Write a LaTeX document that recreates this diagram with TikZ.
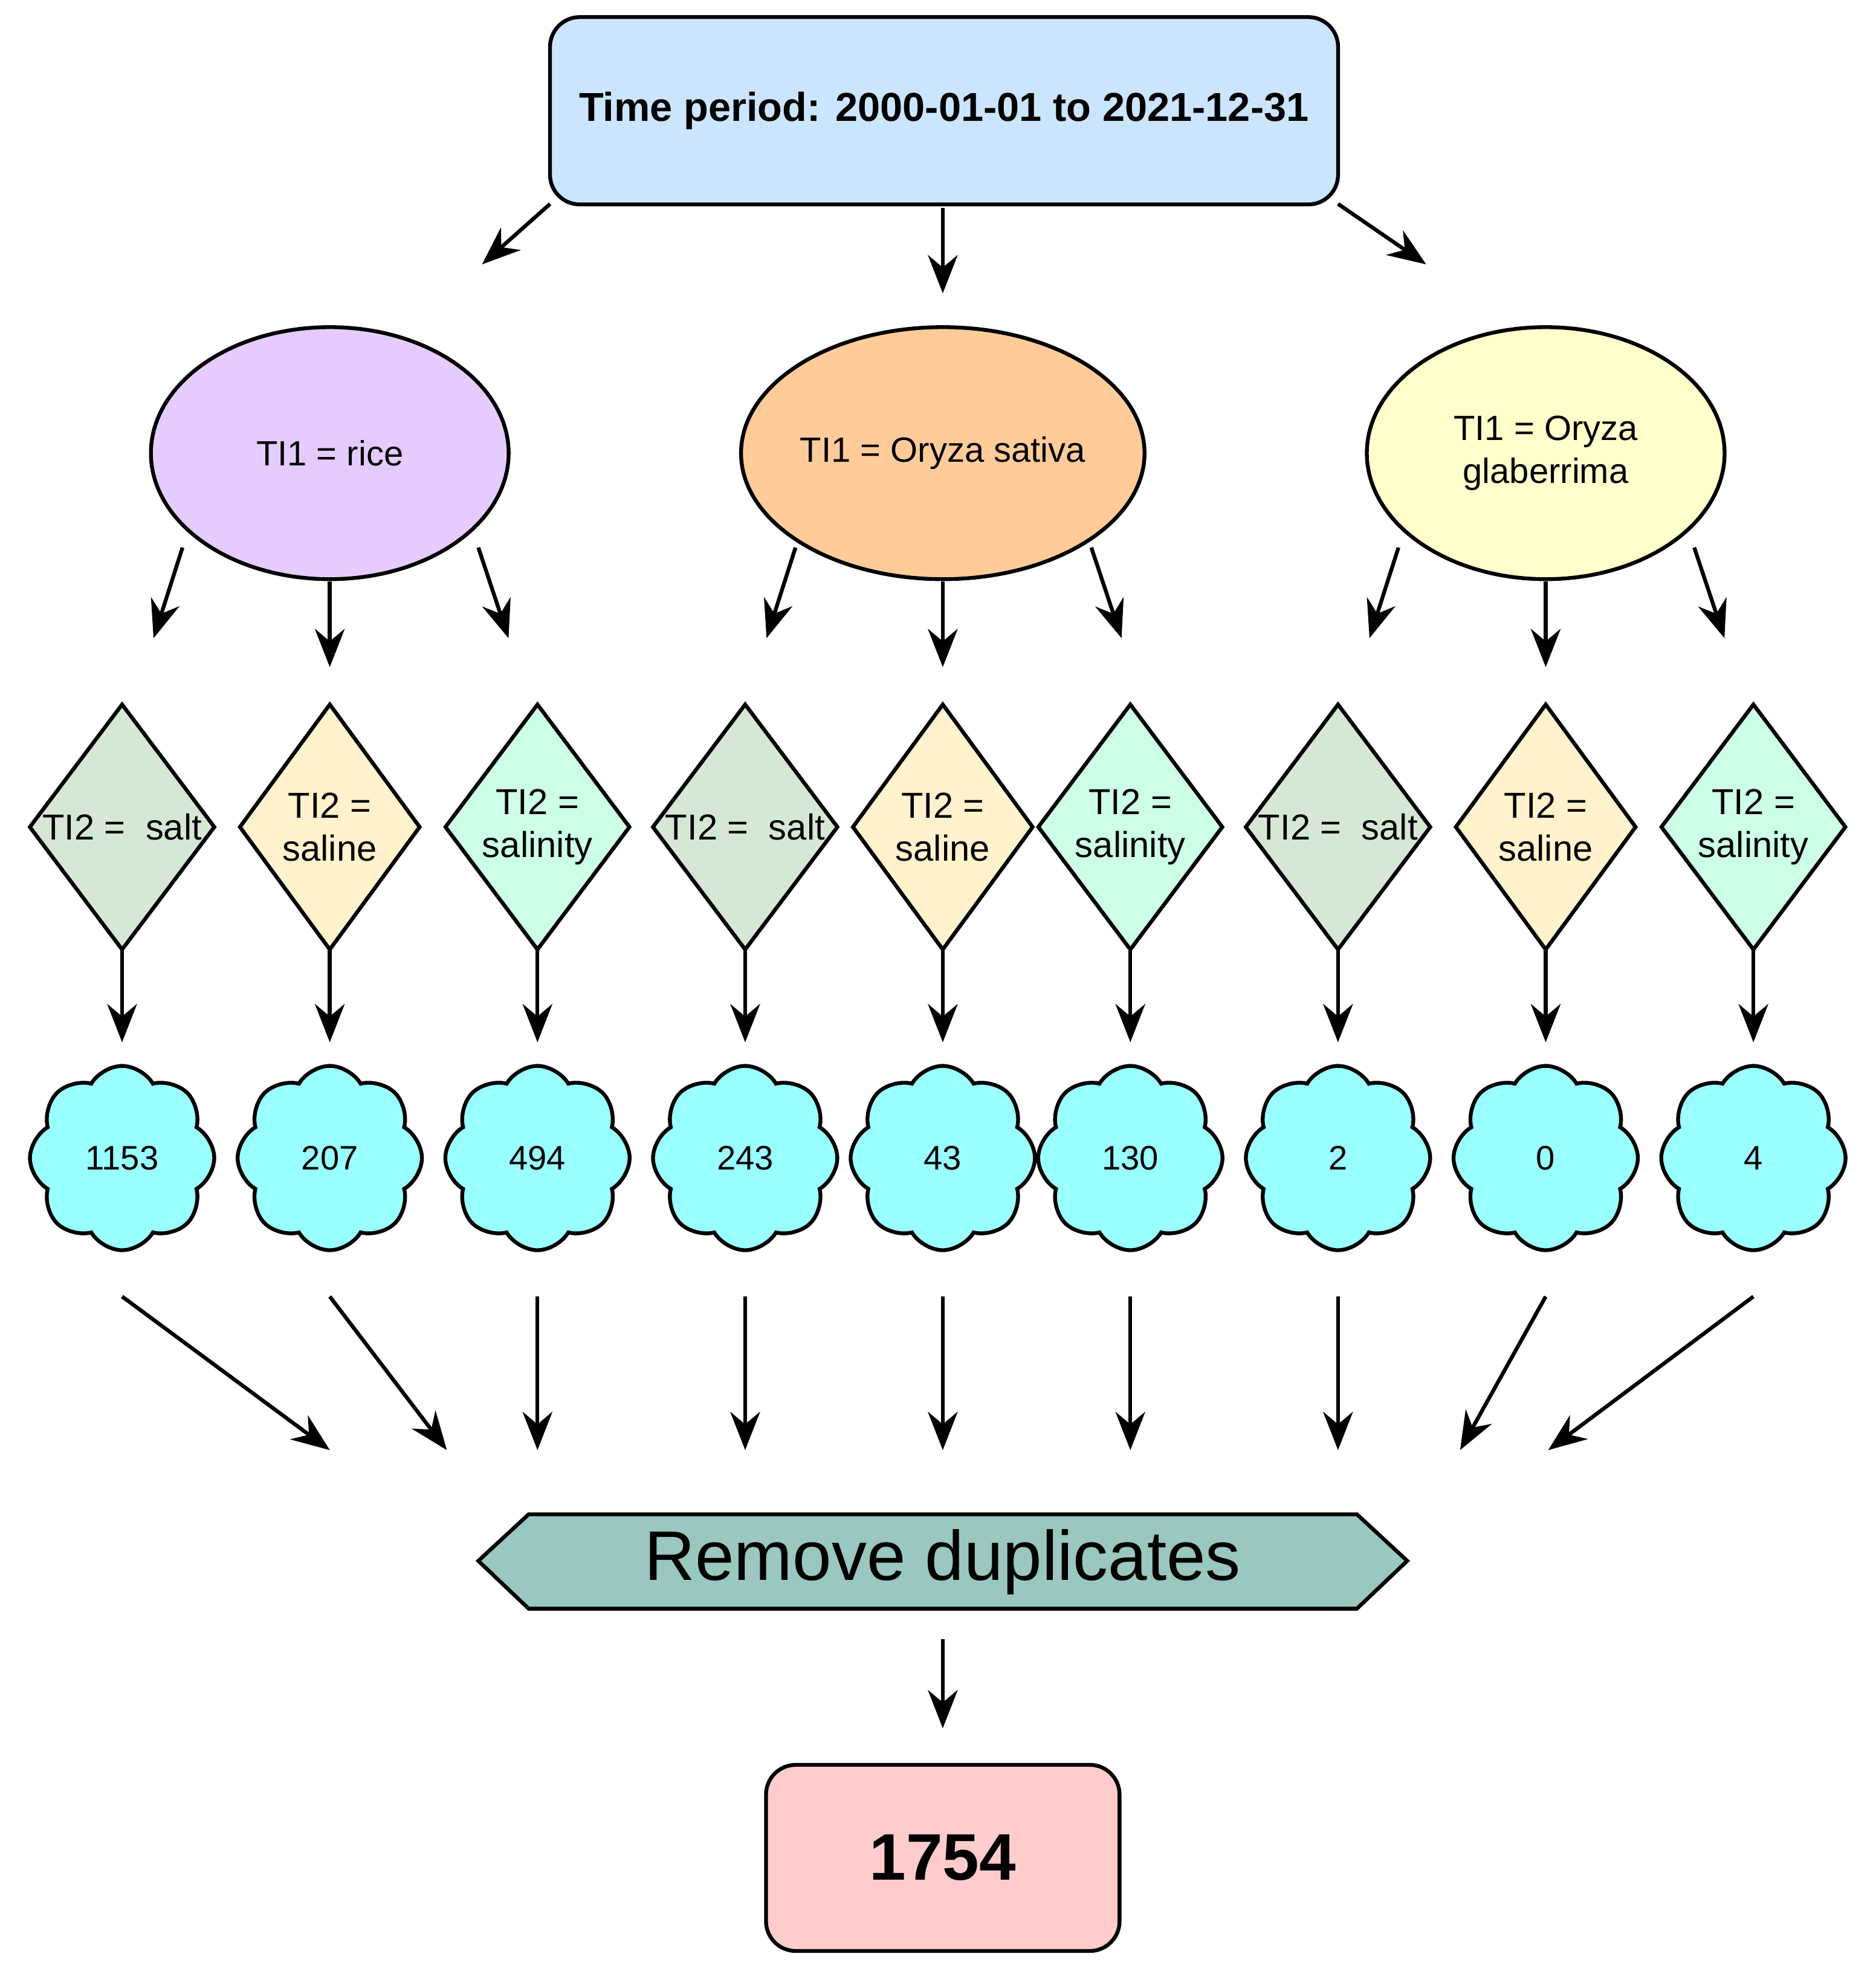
\documentclass[tikz,border=0pt]{standalone}
\usepackage{fontspec}
\setmainfont{Liberation Sans}
\usetikzlibrary{shapes.geometric,shapes.symbols,arrows.meta}
\definecolor{topc}{HTML}{CCE5FF}
\definecolor{ricec}{HTML}{E5CCFF}
\definecolor{sativc}{HTML}{FFCC99}
\definecolor{glabc}{HTML}{FFFFCC}
\definecolor{saltc}{HTML}{D5E8D4}
\definecolor{salinec}{HTML}{FFF2CC}
\definecolor{salinityc}{HTML}{CCFFE6}
\definecolor{cloudc}{HTML}{99FFFF}
\definecolor{remc}{HTML}{9AC7BF}
\definecolor{resc}{HTML}{FFCCCC}
\tikzset{
 arr/.style={-{Stealth[length=18pt,width=14pt]},line width=1.8pt},
 ell/.style={ellipse,draw,line width=1.8pt,inner sep=0pt,minimum width=5.92cm,minimum height=4.17cm,font=\fontsize{16.5}{20}\selectfont,align=center},
 dia/.style={diamond,draw,line width=1.8pt,minimum width=3.0cm,minimum height=4.08cm,inner sep=0pt,font=\fontsize{17}{20}\selectfont,align=center},
 cld/.style={cloud,cloud puffs=8,cloud puff arc=120,draw,line width=1.8pt,fill=cloudc,minimum width=3.05cm,minimum height=3.05cm,aspect=1,font=\fontsize{16}{19}\selectfont},
}
\begin{document}
\begin{tikzpicture}[x=0.02083cm,y=-0.02083cm]
\useasboundingbox (0,0) rectangle (1490,1573);
\node[draw,line width=1.8pt,rounded corners=14pt,fill=topc,minimum width=13.04cm,minimum height=3.1cm,font=\bfseries\fontsize{19}{23}\selectfont] (top) at (750,88) {Time period: 2000-01-01 to 2021-12-31};
\coordinate (t1a) at (437,162); \coordinate (t1b) at (383,210);
\coordinate (t2a) at (749,165); \coordinate (t2b) at (749,233);
\coordinate (t3a) at (1063,162); \coordinate (t3b) at (1133,210);
\draw[arr] (t1a)--(t1b); \draw[arr] (t2a)--(t2b); \draw[arr] (t3a)--(t3b);
\node[ell,fill=ricec] (e1) at (262,360) {TI1 = rice};
\node[ell,fill=sativc] (e2) at (749,360) {TI1 = Oryza sativa};
\node[ell,fill=glabc] (e3) at (1228,360) {TI1 = Oryza\\glaberrima};
\foreach \c [count=\i] in {262,749,1228}{
  \coordinate (la\i) at (\c-117,435); \coordinate (lb\i) at (\c-140,507);
  \coordinate (ma\i) at (\c,462); \coordinate (mb\i) at (\c,530);
  \coordinate (ra\i) at (\c+118,435); \coordinate (rb\i) at (\c+142,507);
  \draw[arr] (la\i)--(lb\i); \draw[arr] (ma\i)--(mb\i); \draw[arr] (ra\i)--(rb\i);
}
\foreach \x/\t/\f/\n [count=\i] in {97/{TI2 =\ \ salt}/saltc/1153, 262/{TI2 =\\saline}/salinec/207, 427/{TI2 =\\salinity}/salinityc/494,
 592/{TI2 =\ \ salt}/saltc/243, 749/{TI2 =\\saline}/salinec/43, 898/{TI2 =\\salinity}/salinityc/130,
 1063/{TI2 =\ \ salt}/saltc/2, 1228/{TI2 =\\saline}/salinec/0, 1393/{TI2 =\\salinity}/salinityc/4}{
  \node[dia,fill=\f] (d\i) at (\x,657) {\t};
  \coordinate (da\i) at (\x,755); \coordinate (db\i) at (\x,828);
  \draw[arr] (da\i)--(db\i);
  \node[cld] (c\i) at (\x,920) {\n};
}
\foreach \a/\b [count=\i] in {97/262,262/355,427/427,592/592,749/749,898/898,1063/1063,1228/1160,1393/1230}{
  \coordinate (ba\i) at (\a,1030); \coordinate (bb\i) at (\b,1152);
  \draw[arr] (ba\i)--(bb\i);
}
\draw[line width=1.8pt,fill=remc] (380,1240)--(420,1203)--(1078,1203)--(1118,1240)--(1078,1278)--(420,1278)--cycle;
\node[font=\fontsize{33}{38}\selectfont] (rem) at (749,1241) {Remove duplicates};
\coordinate (ra) at (749,1302); \coordinate (rb) at (749,1373);
\draw[arr] (ra)--(rb);
\node[draw,line width=1.8pt,rounded corners=14pt,fill=resc,minimum width=5.85cm,minimum height=3.08cm,font=\bfseries\fontsize{31}{36}\selectfont] (res) at (749,1476) {1754};
\end{tikzpicture}
\end{document}
